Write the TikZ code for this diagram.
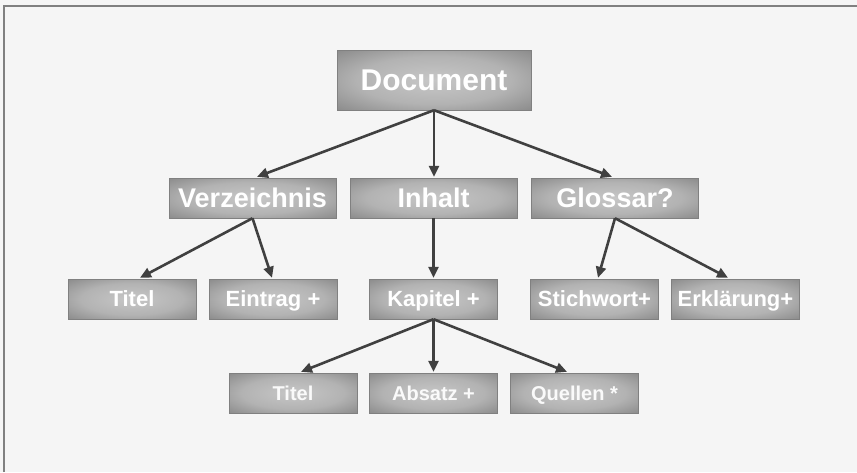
\documentclass[tikz,border=0pt]{standalone}
\usepackage{fontspec}
\setmainfont{Liberation Sans}
\usetikzlibrary{arrows.meta,calc}
\pgfdeclareradialshading{boxglow}{\pgfpoint{0bp}{0bp}}{%
  color(0bp)=(black!22); color(20bp)=(black!30); color(38bp)=(black!48);
  color(50bp)=(black!57); color(70bp)=(black!62)}
\tikzset{
  treebox/.style={rectangle, inner sep=0pt, shading=boxglow, text=white,
    draw=black!50, line width=0.4pt, text depth=0pt},
  lvla/.style={treebox, minimum width=194pt, minimum height=60pt,
    text height=21.5pt, font=\bfseries\fontsize{30}{34}\selectfont},
  lvlb/.style={treebox, minimum width=167pt, minimum height=40pt,
    text height=19.3pt, font=\bfseries\fontsize{27}{30}\selectfont},
  lvlc/.style={treebox, minimum width=128pt, minimum height=40pt,
    text height=15.8pt, font=\bfseries\fontsize{22}{26}\selectfont},
  lvld/.style={treebox, minimum width=128pt, minimum height=40pt,
    text height=14.3pt, text=black!2, font=\bfseries\fontsize{20}{24}\selectfont},
  link/.style={draw=black!75, line width=2.6pt,
    -{Triangle[length=11pt,width=10pt]}}
}
\begin{document}
\begin{tikzpicture}[x=1pt,y=-1pt]
  \useasboundingbox (0,0) rectangle (857,472);
  \fill[black!4] (0,0) rectangle (857,472);
  \draw[black!50, line width=1.5pt] (4,472) -- (4,6) -- (857,6);

  \node[lvla] (doc) at (434,80) {Document};

  \node[lvlb] (verz) at (252.5,198) {Verzeichnis};
  \node[lvlb] (inh) at (433.5,198) {Inhalt};
  \node[lvlb] (glo) at (615,198) {Glossar?};

  \node[lvlc] (titel) at (132,299) {Titel};
  \node[lvlc] (eintrag) at (273,299) {Eintrag +};
  \node[lvlc] (kap) at (433.5,299) {Kapitel +};
  \node[lvlc] (stich) at (594.5,299) {Stichwort+};
  \node[lvlc] (erkl) at (735.5,299) {Erklärung+};

  \node[lvld] (titelb) at (293,393) {Titel};
  \node[lvld] (absatz) at (433.5,393) {Absatz +};
  \node[lvld] (quellen) at (574.5,393) {Quellen *};

  \draw[link] (doc.south) -- ([xshift=4.5pt,yshift=1pt]verz.north);
  \draw[link] (doc.south) -- ([xshift=0.5pt,yshift=1pt]inh.north);
  \draw[link] (doc.south) -- ([xshift=-3pt,yshift=1pt]glo.north);

  \draw[link] (verz.south) -- ([xshift=8pt,yshift=1pt]titel.north);
  \draw[link] (verz.south) -- ([xshift=-1pt,yshift=1pt]eintrag.north);
  \draw[link] (inh.south) -- ([yshift=1pt]kap.north);
  \draw[link] (glo.south) -- ([xshift=3.5pt,yshift=1pt]stich.north);
  \draw[link] (glo.south) -- ([xshift=-7.5pt,yshift=1pt]erkl.north);

  \draw[link] (kap.south) -- ([xshift=8pt,yshift=1pt]titelb.north);
  \draw[link] (kap.south) -- ([yshift=1pt]absatz.north);
  \draw[link] (kap.south) -- ([xshift=-7.5pt,yshift=1pt]quellen.north);
\end{tikzpicture}
\end{document}
